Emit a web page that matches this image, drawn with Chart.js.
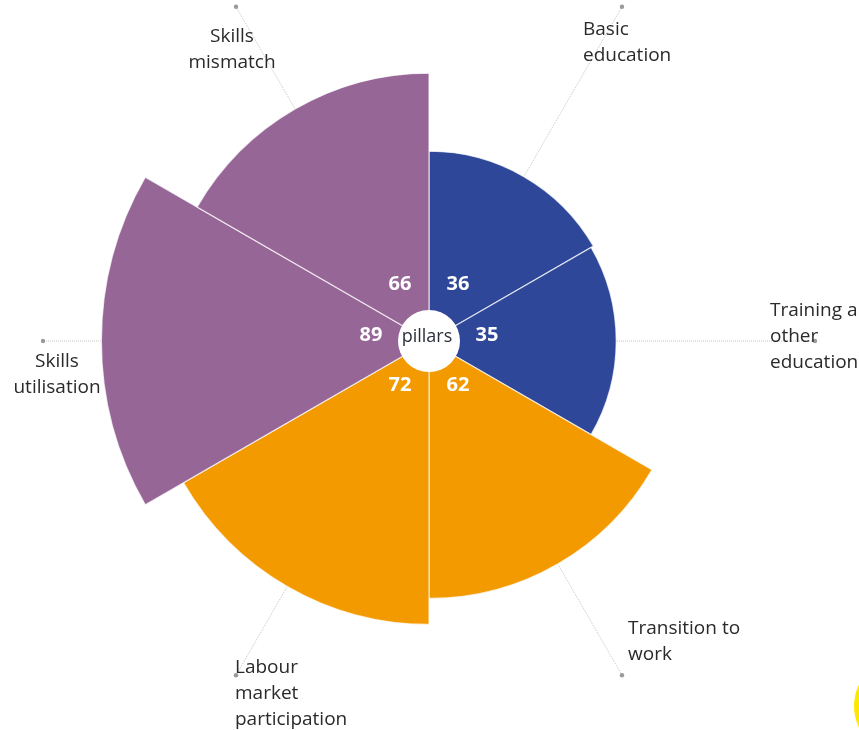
<!DOCTYPE html>
<html>
<head>
<meta charset="utf-8">
<title>Skills pillars</title>
<script src="https://cdn.jsdelivr.net/npm/chart.js@4.4.1/dist/chart.umd.min.js"></script>
<style>
body { margin:0; background:#ffffff; }
#wrap { width:859px; height:730px; }
</style>
</head>
<body>
<div id="wrap"><canvas id="pillarChart" width="859" height="730"></canvas></div>
<script>
// pillar names (one entry per wrapped line) and their scores, clockwise from the top
const pillarNames = [
	["Basic", "education"],
	["Training and", "other", "education"],
	["Transition to", "work"],
	["Labour", "market", "participation"],
	["Skills", "utilisation"],
	["Skills", "mismatch"]
];
const pillarScores = [36, 35, 62, 72, 89, 66];
const centreText = "pillars";

const pillarColours = ["#2e4799", "#2e4799", "#f39a00", "#f39a00", "#966697", "#966697"];

// where each name sits relative to the dot at the end of its leader line
// dx / dy move the first line's baseline, lines are 26px apart
const nameLayout = [
	{ align: "left",   dx: -39, dy: 28 },
	{ align: "left",   dx: -45, dy: -25 },
	{ align: "left",   dx: 6,   dy: -41 },
	{ align: "left",   dx: -1,  dy: -2 },
	{ align: "center", dx: 14,  dy: 26 },
	{ align: "center", dx: -4,  dy: 35 }
];

const LEADER_R = 386;   // leader line length from the centre
const HOLE_R = 31;      // white hole in the middle
const SCORE_R = 58;     // distance of the score numbers from the centre

// leader lines, dots and names go underneath, hole and scores on top
const pillarDecor = {
	id: "pillarDecor",
	beforeDatasetsDraw(chart) {
		let ctx = chart.ctx;
		let arcs = chart.getDatasetMeta(0).data;
		ctx.save();
		for (let i = 0; i < arcs.length; i++) {
			let arc = arcs[i];
			let mid = (arc.startAngle + arc.endAngle) / 2;
			let ex = arc.x + Math.cos(mid) * LEADER_R;
			let ey = arc.y + Math.sin(mid) * LEADER_R;

			ctx.strokeStyle = "#c4c4c4";
			ctx.lineWidth = 1;
			ctx.setLineDash([1, 1]);
			ctx.beginPath();
			ctx.moveTo(arc.x, arc.y);
			ctx.lineTo(ex, ey);
			ctx.stroke();
			ctx.setLineDash([]);

			ctx.fillStyle = "#9a9a9a";
			ctx.beginPath();
			ctx.arc(ex, ey, 2.2, 0, Math.PI * 2);
			ctx.fill();

			let lay = nameLayout[i];
			ctx.fillStyle = "#2a2a2a";
			ctx.font = "19px 'Open Sans'";
			ctx.textAlign = lay.align;
			ctx.textBaseline = "alphabetic";
			let lines = pillarNames[i];
			for (let j = 0; j < lines.length; j++)
				ctx.fillText(lines[j], ex + lay.dx, ey + lay.dy + j * 26);
		}
		ctx.restore();
	},
	afterDatasetsDraw(chart) {
		let ctx = chart.ctx;
		let arcs = chart.getDatasetMeta(0).data;
		let cx = arcs[0].x, cy = arcs[0].y;
		ctx.save();

		ctx.fillStyle = "#ffffff";
		ctx.beginPath();
		ctx.arc(cx, cy, HOLE_R, 0, Math.PI * 2);
		ctx.fill();

		ctx.fillStyle = "#2b2f3a";
		ctx.font = "18px 'Open Sans'";
		ctx.textAlign = "center";
		ctx.textBaseline = "middle";
		ctx.fillText(centreText, cx - 2, cy - 4);

		ctx.fillStyle = "#ffffff";
		ctx.font = "bold 20px 'Open Sans'";
		for (let i = 0; i < arcs.length; i++) {
			let mid = (arcs[i].startAngle + arcs[i].endAngle) / 2;
			let tx = cx + Math.cos(mid) * SCORE_R;
			let ty = cy + Math.sin(mid) * SCORE_R - 6;
			ctx.fillText(pillarScores[i], tx, ty);
		}
		ctx.restore();
	},
	afterDraw(chart) {
		// yellow corner badge
		let ctx = chart.ctx;
		ctx.save();
		ctx.fillStyle = "#ffe800";
		ctx.beginPath();
		ctx.arc(903, 706, 49, 0, Math.PI * 2);
		ctx.fill();
		ctx.restore();
	}
};

function DrawPillars(canvasID)
{
	new Chart(canvasID, {
		type: "polarArea",
		data: {
			labels: pillarNames.map(n => n.join(" ")),
			datasets: [{
				data: pillarScores,
				backgroundColor: pillarColours,
				borderColor: "rgba(255,255,255,0.7)",
				borderWidth: 1.2
			}]
		},
		options: {
			responsive: false,
			animation: false,
			layout: { padding: { left: 104, right: 105, top: 16, bottom: 64 } },
			plugins: {
				legend: { display: false },
				tooltip: { enabled: false }
			},
			scales: {
				r: {
					min: -37,
					max: 88,
					ticks: { display: false },
					grid: { display: false },
					angleLines: { display: false },
					pointLabels: { display: false }
				}
			}
		},
		plugins: [pillarDecor]
	});
}

DrawPillars("pillarChart");
</script>
</body>
</html>
